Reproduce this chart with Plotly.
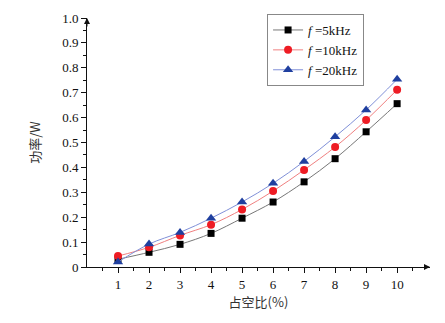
import plotly.graph_objects as go

duty = [1, 2, 3, 4, 5, 6, 7, 8, 9, 10]
p_5k = [0.031, 0.059, 0.091, 0.135, 0.196, 0.261, 0.342, 0.435, 0.543, 0.656]
p_10k = [0.044, 0.079, 0.127, 0.170, 0.231, 0.305, 0.390, 0.482, 0.590, 0.712]
p_20k = [0.020, 0.092, 0.139, 0.196, 0.261, 0.336, 0.424, 0.523, 0.631, 0.754]

names = ["<i>f</i> =5kHz", "<i>f</i> =10kHz", "<i>f</i> =20kHz"]
series = [p_5k, p_10k, p_20k]
line_colors = ["#777777", "#f08080", "#8090d8"]
marker_colors = ["#000000", "#ee1c24", "#1f3f9f"]
symbols = ["square", "circle", "triangle-up"]
sizes = [7, 8, 9]

fig = go.Figure()
for n, s, lc, mc, sym, sz in zip(names, series, line_colors, marker_colors, symbols, sizes):
    fig.add_trace(go.Scatter(
        x=duty, y=s, name=n, mode="lines+markers",
        line=dict(color=lc, width=1, shape="spline"),
        marker=dict(color=mc, symbol=sym, size=sz),
    ))

serif = "Liberation Serif, Times New Roman, serif"
fig.update_layout(
    width=445, height=323,
    margin=dict(l=87, r=15, t=18, b=56),
    paper_bgcolor="white", plot_bgcolor="white",
    font=dict(family=serif, size=13, color="#111"),
    showlegend=True,
    legend=dict(x=0.525, y=1.016, xanchor="left", yanchor="top",
                bordercolor="#888", borderwidth=1, bgcolor="white",
                font=dict(family=serif, size=13), tracegroupgap=0,
                itemwidth=30),
    xaxis=dict(range=[0, 11.06], tickmode="array", tickvals=duty,
               showline=True, linecolor="#111", linewidth=1,
               ticks="outside", ticklen=5, tickcolor="#111",
               minor=dict(tickvals=[x + 0.5 for x in range(0, 11)], ticks="outside", ticklen=3, tickcolor="#111"),
               showgrid=False, zeroline=False,
               title=dict(text="占空比(%)", font=dict(family="Noto Sans CJK SC", size=13, color="#333"), standoff=0)),
    yaxis=dict(range=[0, 1.0], tickmode="array",
               tickvals=[0, 0.1, 0.2, 0.3, 0.4, 0.5, 0.6, 0.7, 0.8, 0.9, 1.0],
               ticktext=["0", "0.1", "0.2", "0.3", "0.4", "0.5", "0.6", "0.7", "0.8", "0.9", "1.0"],
               showline=True, linecolor="#111", linewidth=1,
               ticks="outside", ticklen=5, tickcolor="#111",
               minor=dict(tickvals=[0.05 + 0.1 * i for i in range(10)], ticks="outside", ticklen=3, tickcolor="#111"),
               showgrid=False, zeroline=False,
               title=dict(text="功率/W", font=dict(family="Noto Sans CJK SC", size=13, color="#333"), standoff=18)),
)

# axis arrowheads
fig.add_annotation(x=0, y=1.0, ax=0, ay=0.96, xref="x", yref="y", axref="x", ayref="y",
                   showarrow=True, arrowhead=2, arrowsize=1.2, arrowwidth=1, arrowcolor="#111", text="")
fig.add_annotation(x=11.06, y=0, ax=10.9, ay=0, xref="x", yref="y", axref="x", ayref="y",
                   showarrow=True, arrowhead=2, arrowsize=1.2, arrowwidth=1, arrowcolor="#111", text="")

fig.write_html("out.html")
